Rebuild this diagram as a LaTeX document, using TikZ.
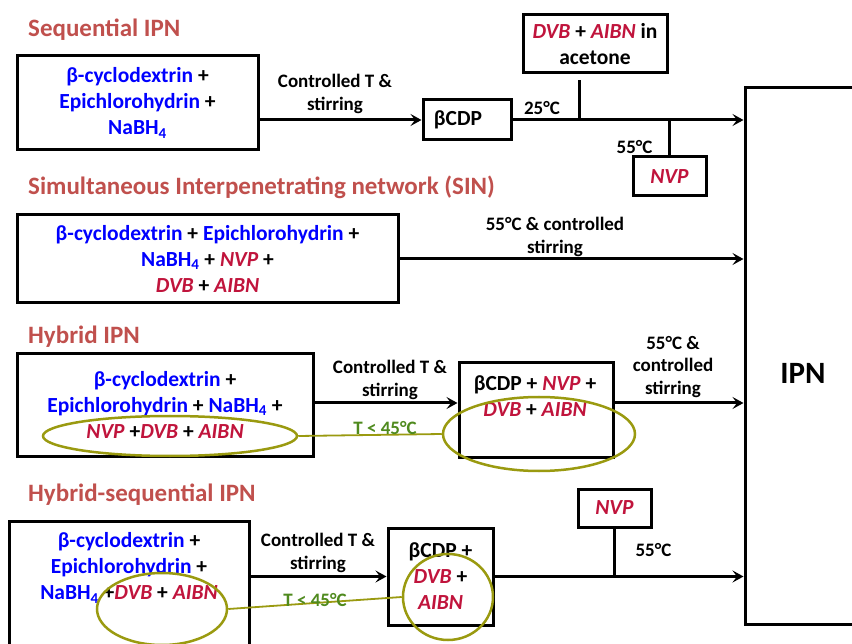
\documentclass[tikz,border=0pt]{standalone}
\usepackage{fontspec}
\setmainfont{Carlito}
\usetikzlibrary{arrows.meta,shapes.geometric}
\definecolor{titlered}{HTML}{C0504D}
\definecolor{reagentblue}{HTML}{0000FF}
\definecolor{monomerred}{HTML}{C0143C}
\definecolor{ringolive}{HTML}{9A9A10}
\definecolor{tempgreen}{HTML}{4F8A1E}
\newcommand{\reag}[1]{\textcolor{reagentblue}{#1}}
\newcommand{\mono}[1]{\textcolor{monomerred}{\textit{#1}}}

\begin{document}
\begin{tikzpicture}[x=1pt,y=-1pt,
    box/.style={draw, line width=3pt, inner sep=0pt},
    body/.style={font=\fontsize{21.5}{26}\selectfont\bfseries, align=center},
    cond/.style={font=\fontsize{19}{22.5}\selectfont\bfseries, align=center},
    heading/.style={font=\fontsize{25}{30}\selectfont\bfseries, text=titlered, anchor=west, inner sep=0pt},
    flow/.style={-{Stealth[length=11pt,width=12pt,inset=4.5pt]}, line width=3pt},
    ring/.style={draw=ringolive, line width=2.5pt, ellipse, inner sep=0pt},
    ringlink/.style={draw=ringolive, line width=1.8pt},
    lowtemp/.style={cond, text=tempgreen}]
    \useasboundingbox (0,0) rectangle (852,644);

    % Product
    \node[box, minimum width=135pt, minimum height=536pt] (ipn) at (812.5,356) {};
    \node[font=\fontsize{31}{36}\selectfont\bfseries] (ipnlabel) at (803,373) {IPN};

    % Sequential IPN
    \node[heading] (seqtitle) at (28,30) {Sequential IPN};
    \node[box, body, minimum width=241pt, minimum height=94pt] (seqsrc) at (137.5,103)
        {\reag{β-cyclodextrin} +\\ \reag{Epichlorohydrin} +\\ \reag{NaBH\textsubscript{4}}};
    \node[box, body, minimum width=88pt, minimum height=40pt] (cdp) at (467,120) {βCDP\hspace{18pt}};
    \node[box, body, minimum width=144pt, minimum height=58pt] (dvb) at (595,44)
        {\mono{DVB} + \mono{AIBN} in\\ acetone};
    \node[box, body, minimum width=73pt, minimum height=39pt] (nvpa) at (669.5,176.5) {\mono{NVP}};
    \draw[flow] (seqsrc.east |- cdp.west) -- (cdp.west);
    \node[cond] (seqcond) at (335,94) {Controlled T \&\\ stirring};
    \draw[flow] (cdp.east) -- (cdp.east -| ipn.west);
    \node[cond] (seqroom) at (542,108) {25°C};
    \coordinate (dvbfoot) at ([xshift=-16pt,yshift=-6pt]dvb.south);
    \draw[line width=3pt] (dvbfoot) -- (dvbfoot |- cdp.east);
    \draw[line width=3pt] (nvpa.north) -- (nvpa.north |- cdp.east);
    \node[cond, anchor=east] (seqwarm) at (656,147) {55°C};

    % Simultaneous IPN
    \node[heading] (sintitle) at (28,187) {Simultaneous Interpenetrating network (SIN)};
    \node[box, body, minimum width=381pt, minimum height=88pt] (sinsrc) at (207.5,259)
        {\reag{β-cyclodextrin} + \reag{Epichlorohydrin} +\\ \reag{NaBH\textsubscript{4}} + \mono{NVP} +\\ \mono{DVB} + \mono{AIBN}};
    \draw[flow] (sinsrc.east) -- (sinsrc.east -| ipn.west);
    \node[cond] (sincond) at (555,237) {55°C \& controlled\\ stirring};

    % Hybrid IPN
    \node[heading] (hybtitle) at (28,337) {Hybrid IPN};
    \node[box, body, minimum width=296pt, minimum height=103pt] (hybsrc) at (165,405)
        {\reag{β-cyclodextrin} +\\ \reag{Epichlorohydrin} + \reag{NaBH\textsubscript{4}} +\\ \mono{NVP} +\mono{DVB} + \mono{AIBN}};
    \node[box, minimum width=154pt, minimum height=94pt] (mix) at (536,410) {};
    \node[body] (mixtext) at (535,396) {βCDP + \mono{NVP} +\\ \mono{DVB} + \mono{AIBN}};
    \node[ring, minimum width=254pt, minimum height=40pt] (ringa) at (170,436) {};
    \node[ring, minimum width=192pt, minimum height=74pt] (ringb) at (539,434) {};
    \draw[flow] (hybsrc.east |- mix.west) ++(0,-7) coordinate (hybout) -- (hybout -| mix.west);
    \node[cond] (hybcond) at (390,380) {Controlled T \&\\ stirring};
    \draw[ringlink] (ringa.east) -- (ringb.west);
    \node[lowtemp] (hybcold) at (385,428) {T < 45°C};
    \draw[flow] (mix.east |- hybout) -- (hybout -| ipn.west);
    \node[cond] (hybwarm) at (673,367) {55°C \&\\ controlled\\ stirring};

    % Hybrid-sequential IPN
    \node[heading] (hstitle) at (28,495) {Hybrid-sequential IPN};
    \node[box, minimum width=240pt, minimum height=160pt] (hssrc) at (129,601) {};
    \node[body] (hstext) at (129,568)
        {\reag{β-cyclodextrin} +\\ \reag{Epichlorohydrin} +\\ \reag{NaBH\textsubscript{4}} +\mono{DVB} + \mono{AIBN}};
    \node[box, body, minimum width=105pt, minimum height=97pt] (hsmix) at (440.5,576.5)
        {βCDP +\\ \mono{DVB} +\\ \mono{AIBN}};
    \node[box, body, minimum width=73pt, minimum height=38pt] (nvpb) at (614.5,508) {\mono{NVP}};
    \node[ring, minimum width=130pt, minimum height=72pt] (ringc) at (162,609) {};
    \node[ring, minimum width=90pt, minimum height=86pt] (ringd) at (448,597) {};
    \draw[flow] (hssrc.east |- hsmix.west) -- (hsmix.west);
    \node[cond] (hscond) at (318,553) {Controlled T \&\\ stirring};
    \draw[ringlink] (ringc.east) -- (ringd.west);
    \node[lowtemp] (hscold) at (315,600) {T < 45°C};
    \draw[flow] (hsmix.east) -- (hsmix.east -| ipn.west);
    \draw[line width=3pt] (nvpb.south) -- (nvpb.south |- hsmix.east);
    \node[cond, anchor=west] (hswarm) at (632,550) {55°C};
\end{tikzpicture}
\end{document}
